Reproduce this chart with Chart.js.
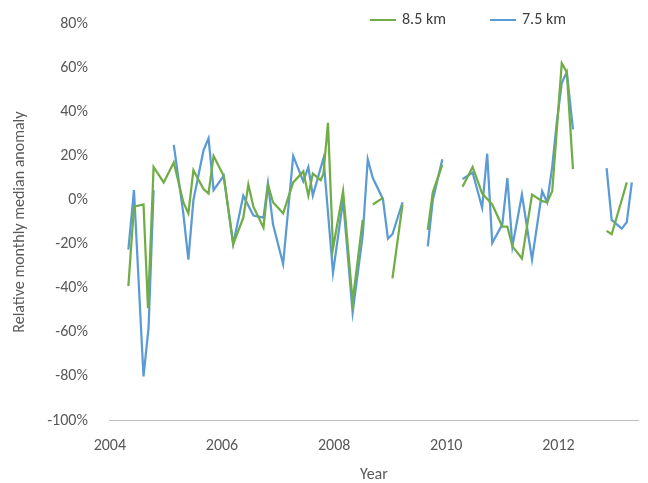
<!DOCTYPE html>
<html><head><meta charset="utf-8">
<script src="https://cdn.jsdelivr.net/npm/chart.js@4"></script>
<style>
html,body{margin:0;padding:0;background:#fff;}
#wrap{position:relative;width:648px;height:483px;}
#leg{position:absolute;top:9px;left:370px;font:16px Calibri,"Liberation Sans",Arial,sans-serif;color:#404040;}
.it{position:absolute;top:0;white-space:nowrap;}
.ln{display:inline-block;width:26px;height:0;border-top:2.5px solid;vertical-align:middle;margin-right:6px;}
</style></head><body>
<div id="wrap"><canvas id="c" width="648" height="483"></canvas>
<div id="leg">
<div class="it" style="left:0"><span class="ln" style="border-color:#70ad47"></span>8.5 km</div>
<div class="it" style="left:120px"><span class="ln" style="border-color:#5b9bd5"></span>7.5 km</div>
</div></div>
<script>
const greenYears=[2004.33,2004.43,2004.60,2004.68,2004.78,2004.96,2005.14,2005.31,2005.40,2005.49,2005.67,2005.76,2005.85,2006.03,2006.20,2006.38,2006.47,2006.56,2006.74,2006.82,2006.91,2007.09,2007.27,2007.45,2007.54,2007.62,2007.76,2007.81,2007.89,2007.98,2008.16,2008.33,2008.51,2008.60,2008.69,2008.87,2008.96,2009.04,2009.22,2009.44,2009.67,2009.76,2009.93,2010.10,2010.29,2010.47,2010.64,2010.82,2011.00,2011.09,2011.18,2011.35,2011.53,2011.71,2011.80,2011.89,2012.06,2012.15,2012.26,2012.50,2012.86,2012.95,2013.13,2013.22,2013.31];
const greenVals=[-39,-3,-2,-49,15,8,17,-1,-6,13.5,5,3,20,11,-20,-8,7,-3,-12.5,7,-1,-6,8,13,2,12,9,12,35,-22,4,-46,-9,null,-2,1,null,-35.5,-2,null,-13.5,3.5,16,null,6,15,3,-2,-12,-12,-21,-26.5,2.5,-0.5,-1,4,62,58,14,null,-14,-15.5,0,8,null];
const blueYears=[2004.33,2004.43,2004.60,2004.69,2004.78,2004.96,2005.14,2005.31,2005.40,2005.49,2005.67,2005.76,2005.85,2006.03,2006.20,2006.38,2006.56,2006.74,2006.82,2006.91,2007.09,2007.27,2007.45,2007.54,2007.62,2007.81,2007.98,2008.16,2008.33,2008.51,2008.60,2008.69,2008.87,2008.96,2009.04,2009.22,2009.44,2009.67,2009.76,2009.93,2010.10,2010.29,2010.47,2010.64,2010.73,2010.82,2011.00,2011.09,2011.18,2011.35,2011.53,2011.71,2011.80,2011.89,2011.97,2012.06,2012.15,2012.26,2012.50,2012.86,2012.95,2013.13,2013.22,2013.31];
const blueVals=[-22.5,4.5,-80,-58,4.5,null,25,-6,-27,0,22.5,28,4.5,11,-20,2,-7,-8,7.5,-11,-29,20,8.5,15,2,19,-33,0,-51,-16,18.5,10,0.5,-17.5,-15.5,-1,null,-21,0,18.5,null,9.5,12.5,-3.5,21,-19.5,-11,10,-21,2.5,-27,4,-1,15,35,53,58,32,null,14.5,-9,-13,-10,8];
const yTicks=[-100,-80,-60,-40,-20,0,20,40,60,80];
const xTicks=[2004,2006,2008,2010,2012];
function pts(xs,ys){return xs.map((x,i)=>({x:x,y:ys[i]}));}
const font={family:'Calibri, "Liberation Sans", Arial, sans-serif',size:16};
new Chart(document.getElementById('c'),{
type:'line',
data:{datasets:[
{label:'8.5 km',data:pts(greenYears,greenVals),borderColor:'#70ad47',borderWidth:2.25,pointRadius:0,spanGaps:false,tension:0},
{label:'7.5 km',data:pts(blueYears,blueVals),borderColor:'#5b9bd5',borderWidth:2.25,pointRadius:0,spanGaps:false,tension:0}
]},
options:{responsive:false,animation:false,
layout:{padding:{top:9,right:10,left:6,bottom:-2}},
plugins:{legend:{display:false},tooltip:{enabled:false}},
scales:{
x:{type:'linear',min:2004,max:2013.42,
afterBuildTicks:s=>{s.ticks=xTicks.map(v=>({value:v}));},
grid:{display:false,drawTicks:true,tickLength:6,color:'#bfbfbf'},
border:{display:true,color:'#bfbfbf'},
ticks:{color:'#595959',font:font,maxRotation:0,padding:10,callback:v=>String(v)},
title:{display:true,text:'Year',color:'#595959',font:font,padding:{top:0,bottom:0}}},
y:{min:-100,max:80,
afterBuildTicks:s=>{s.ticks=yTicks.map(v=>({value:v}));},
grid:{display:false},border:{display:false},
ticks:{color:'#595959',font:font,padding:14,callback:v=>v+'%'},
title:{display:true,text:'Relative monthly median anomaly',color:'#595959',font:font,padding:{bottom:4}}}
}}});
</script></body></html>
